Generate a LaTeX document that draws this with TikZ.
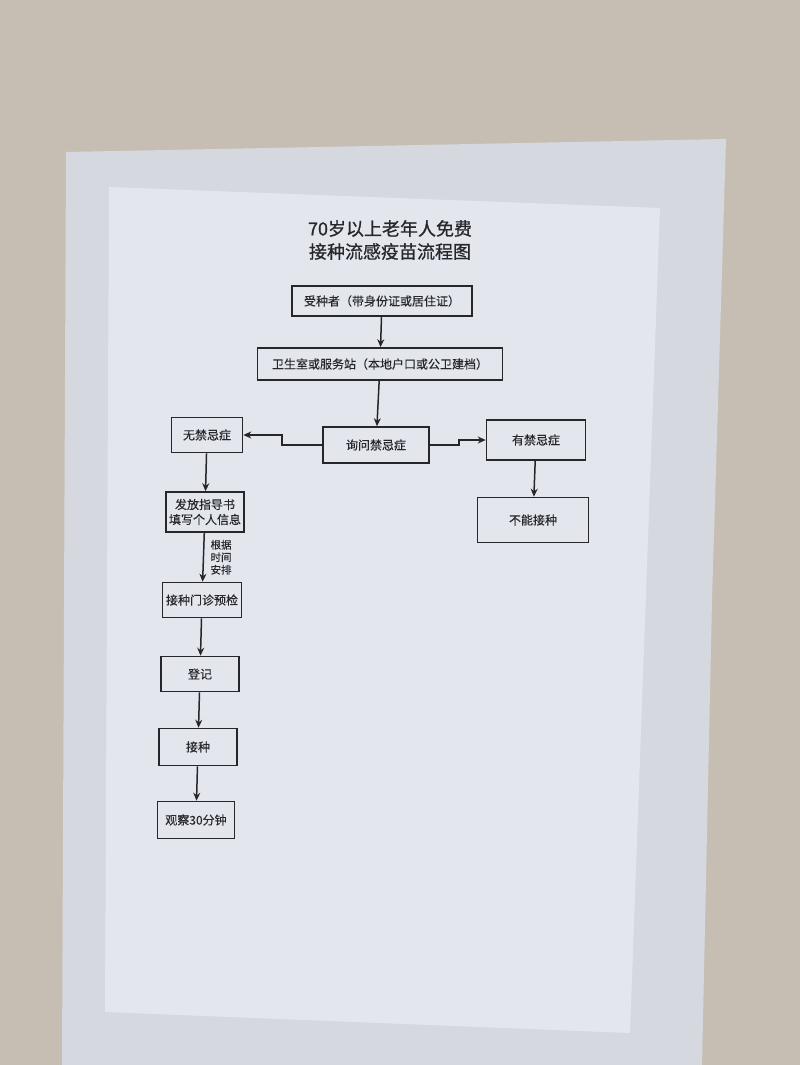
\documentclass[tikz,border=0pt]{standalone}
\usepackage{fontspec}
\setmainfont{Noto Sans CJK SC}[FakeBold=0.3]
\newfontfamily\titlefont{Noto Sans CJK SC}[FakeBold=0.8]
\usetikzlibrary{arrows.meta}
\definecolor{wall}{HTML}{C6BEB2}
\definecolor{tape}{HTML}{D6D8E0}
\definecolor{paper}{HTML}{E4E6EE}
\definecolor{ink}{HTML}{26262C}

\begin{document}
\begin{tikzpicture}[x=1pt, y=-1pt,
  box/.style={draw=ink, line width=1.6pt, inner sep=0pt, text=ink, font=\fontsize{12}{15}\selectfont, align=center},
  arr/.style={draw=ink, line width=1.5pt, -{Stealth[length=8pt, width=7pt]}}]
\useasboundingbox (0,0) rectangle (800,1065);
\fill[wall] (0,0) rectangle (800,1065);
\fill[tape] (66,152) -- (726,139) -- (712,600) -- (702,1065) -- (62,1065) -- cycle;
\fill[paper] (109,187) -- (660,208) -- (630,1033) -- (105,1012) -- cycle;

\node (T1) at (390,240) [text=ink, align=center, font=\titlefont\fontsize{18}{23}\selectfont] {70岁以上老年人免费\\接种流感疫苗流程图};

\node (B1) at (382,301) [box, minimum width=180, minimum height=30] {受种者（带身份证或居住证）};
\node (B2) at (380,364) [box, minimum width=245, minimum height=32] {卫生室或服务站（本地户口或公卫建档）};
\node (B3) at (376,445) [box, minimum width=106, minimum height=36] {询问禁忌症};
\node (B4) at (207,435) [box, minimum width=71, minimum height=35] {无禁忌症};
\node (B5) at (536,440) [box, minimum width=99, minimum height=40] {有禁忌症};
\node (B6) at (533,520) [box, minimum width=111, minimum height=45] {不能接种};
\node (B7) at (205,512) [box, minimum width=78, minimum height=40] {发放指导书\\填写个人信息};
\node (B8) at (202,600) [box, minimum width=79, minimum height=35] {接种门诊预检};
\node (B9) at (200,674) [box, minimum width=78, minimum height=35] {登记};
\node (B10) at (198,747) [box, minimum width=78, minimum height=37] {接种};
\node (B11) at (196,820) [box, minimum width=77, minimum height=37] {观察30分钟};

\draw [arr] (B1) -- (B2);
\draw [arr] (B2) -- (B3);
\draw [arr] (B3.west) -- ++(-40,0) |- (B4.east);
\draw [arr] (B3.east) -- ++(29,0) |- (B5.west);
\draw [arr] (B5) -- (B6);

\draw [arr] (B4) -- (B7);
\draw [arr] (B7) -- (B8) node[midway, right, xshift=3pt, text=ink, align=left, font=\fontsize{10.5}{12.5}\selectfont] {根据\\时间\\安排};
\draw [arr] (B8) -- (B9);
\draw [arr] (B9) -- (B10);
\draw [arr] (B10) -- (B11);
\end{tikzpicture}
\end{document}
